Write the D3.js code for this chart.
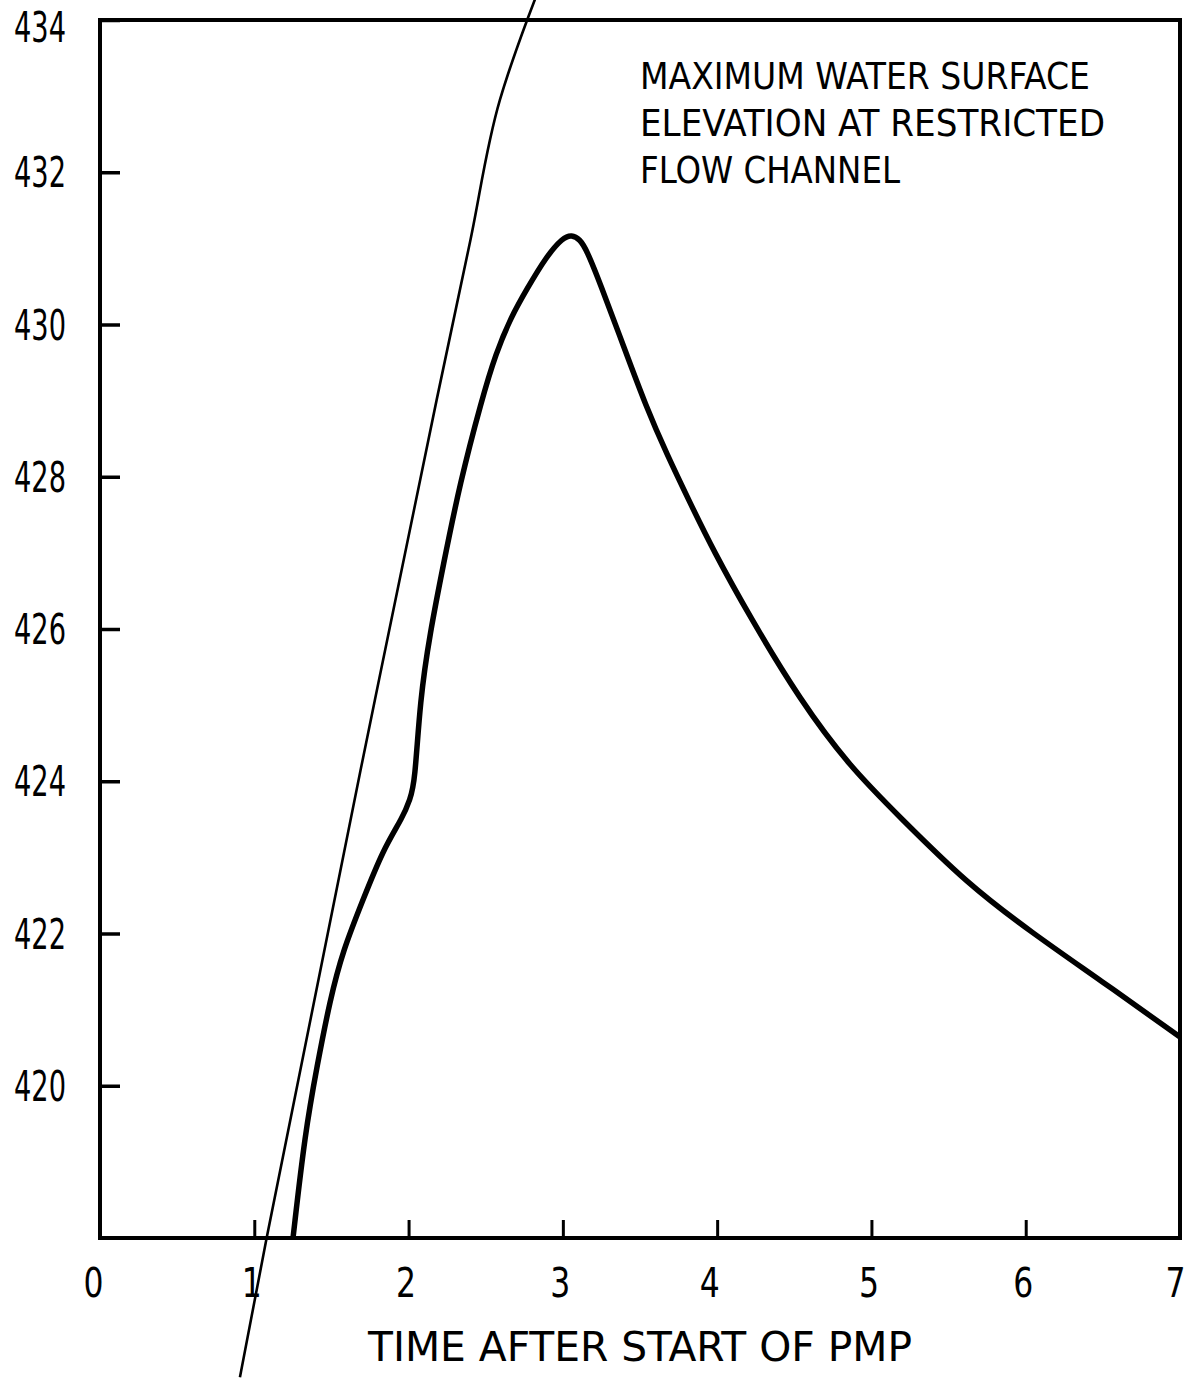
<!DOCTYPE html>
<meta charset="utf-8">
<style>
  body { margin: 0; background: #fff; }
  svg text { font-family: "Liberation Sans Narrow", "DejaVu Sans Condensed", "Liberation Sans", sans-serif; fill: #000; }
</style>
<body>
<div id="chart"></div>
<script src="https://d3js.org/d3.v7.min.js"></script>
<script>
// time after start of PMP (x) and elevation (y)
var stageTime = [1.251, 1.329, 1.406, 1.491, 1.575, 1.704, 1.834, 1.964, 2.009, 2.041, 2.074, 2.139, 2.223, 2.333, 2.474, 2.565, 2.665, 2.765, 2.895, 3.000, 3.057, 3.110, 3.154, 3.240, 3.400, 3.540, 3.673, 3.824, 3.973, 4.212, 4.536, 4.860, 5.184, 5.617, 6.047, 6.481, 7.0];
var stageElev = [418.0, 419.38, 420.25, 421.13, 421.78, 422.44, 423.10, 423.53, 423.76, 423.98, 425.07, 425.95, 426.82, 427.92, 429.01, 429.62, 430.10, 430.46, 430.90, 431.14, 431.18, 431.12, 430.98, 430.55, 429.68, 428.92, 428.30, 427.66, 427.04, 426.16, 425.07, 424.19, 423.53, 422.66, 422.00, 421.39, 420.64];

// the thin line runs past the frame at both ends
var lineTime = [0.907, 1.080, 1.782, 2.182, 2.400, 2.592, 2.774, 2.819];
var lineElev = [416.17, 418.0, 425.07, 429.01, 431.10, 432.95, 434.03, 434.27];

var xTicks = [0, 1, 2, 3, 4, 5, 6, 7];
var yTicks = [420, 422, 424, 426, 428, 430, 432, 434];

var noteLines = ["MAXIMUM WATER SURFACE", "ELEVATION AT RESTRICTED", "FLOW CHANNEL"];
var xTitle = "TIME AFTER START OF PMP";

var margin = {top: 20, right: 8, bottom: 141, left: 100},
    width = 1188 - margin.left - margin.right,
    height = 1379 - margin.top - margin.bottom;

var x = d3.scaleLinear().domain([0, 7]).range([0, width]);
var y = d3.scaleLinear().domain([418, 434]).range([height, 0]);

var svg = d3.select("#chart").append("svg")
    .attr("width", 1188)
    .attr("height", 1379)
  .append("g")
    .attr("transform", "translate(" + margin.left + "," + margin.top + ")");

// y axis, ticks pointing into the plot
var yAxis = svg.append("g")
    .call(d3.axisLeft(y).tickValues(yTicks).tickSize(-20).tickPadding(34).tickFormat(d3.format("d")));
yAxis.select(".domain").remove();
yAxis.selectAll("line").attr("stroke", "#000").attr("stroke-width", 3.5);
yAxis.selectAll("text")
    .attr("font-size", 42)
    .attr("textLength", 52)
    .attr("lengthAdjust", "spacingAndGlyphs")
    .attr("dy", function(d) { return d === 434 ? "0.5em" : "0.35em"; });

// x axis, ticks pointing up
var xAxis = svg.append("g")
    .attr("transform", "translate(0," + height + ")")
    .call(d3.axisBottom(x).tickValues(xTicks).tickSize(-18).tickPadding(31).tickFormat(d3.format("d")));
xAxis.select(".domain").remove();
xAxis.selectAll("line").attr("stroke", "#000").attr("stroke-width", 3);
xAxis.selectAll("text")
    .attr("font-size", 40)
    .attr("textLength", 20)
    .attr("lengthAdjust", "spacingAndGlyphs")
    .attr("dx", function(d) { return d === 0 ? -7 : (d === 7 ? -5 : (d === 4 ? -8 : -3)); });

// frame
svg.append("rect")
    .attr("x", 0)
    .attr("y", 0)
    .attr("width", width)
    .attr("height", height)
    .attr("fill", "none")
    .attr("stroke", "#000")
    .attr("stroke-width", 4);

var stage = stageTime.map(function(t, i) { return [t, stageElev[i]]; });
var thin = lineTime.map(function(t, i) { return [t, lineElev[i]]; });

var line = d3.line()
    .x(function(d) { return x(d[0]); })
    .y(function(d) { return y(d[1]); });

svg.append("path")
    .datum(thin)
    .attr("fill", "none")
    .attr("stroke", "#000")
    .attr("stroke-width", 2.6)
    .attr("d", line.curve(d3.curveMonotoneY));

svg.append("path")
    .datum(stage)
    .attr("fill", "none")
    .attr("stroke", "#000")
    .attr("stroke-width", 5.5)
    .attr("stroke-linejoin", "round")
    .attr("d", line.curve(d3.curveBasis));

// note in the upper right
var noteWidths = [450, 465, 260];
svg.selectAll(".note")
    .data(noteLines)
  .enter().append("text")
    .attr("class", "note")
    .attr("x", 540)
    .attr("y", function(d, i) { return 69 + i * 47; })
    .attr("font-size", 38)
    .attr("textLength", function(d, i) { return noteWidths[i]; })
    .attr("lengthAdjust", "spacingAndGlyphs")
    .text(function(d) { return d; });

svg.append("text")
    .attr("x", 268)
    .attr("y", 1361 - margin.top)
    .attr("font-size", 40)
    .attr("textLength", 544)
    .attr("lengthAdjust", "spacingAndGlyphs")
    .text(xTitle);
</script>
</body>
